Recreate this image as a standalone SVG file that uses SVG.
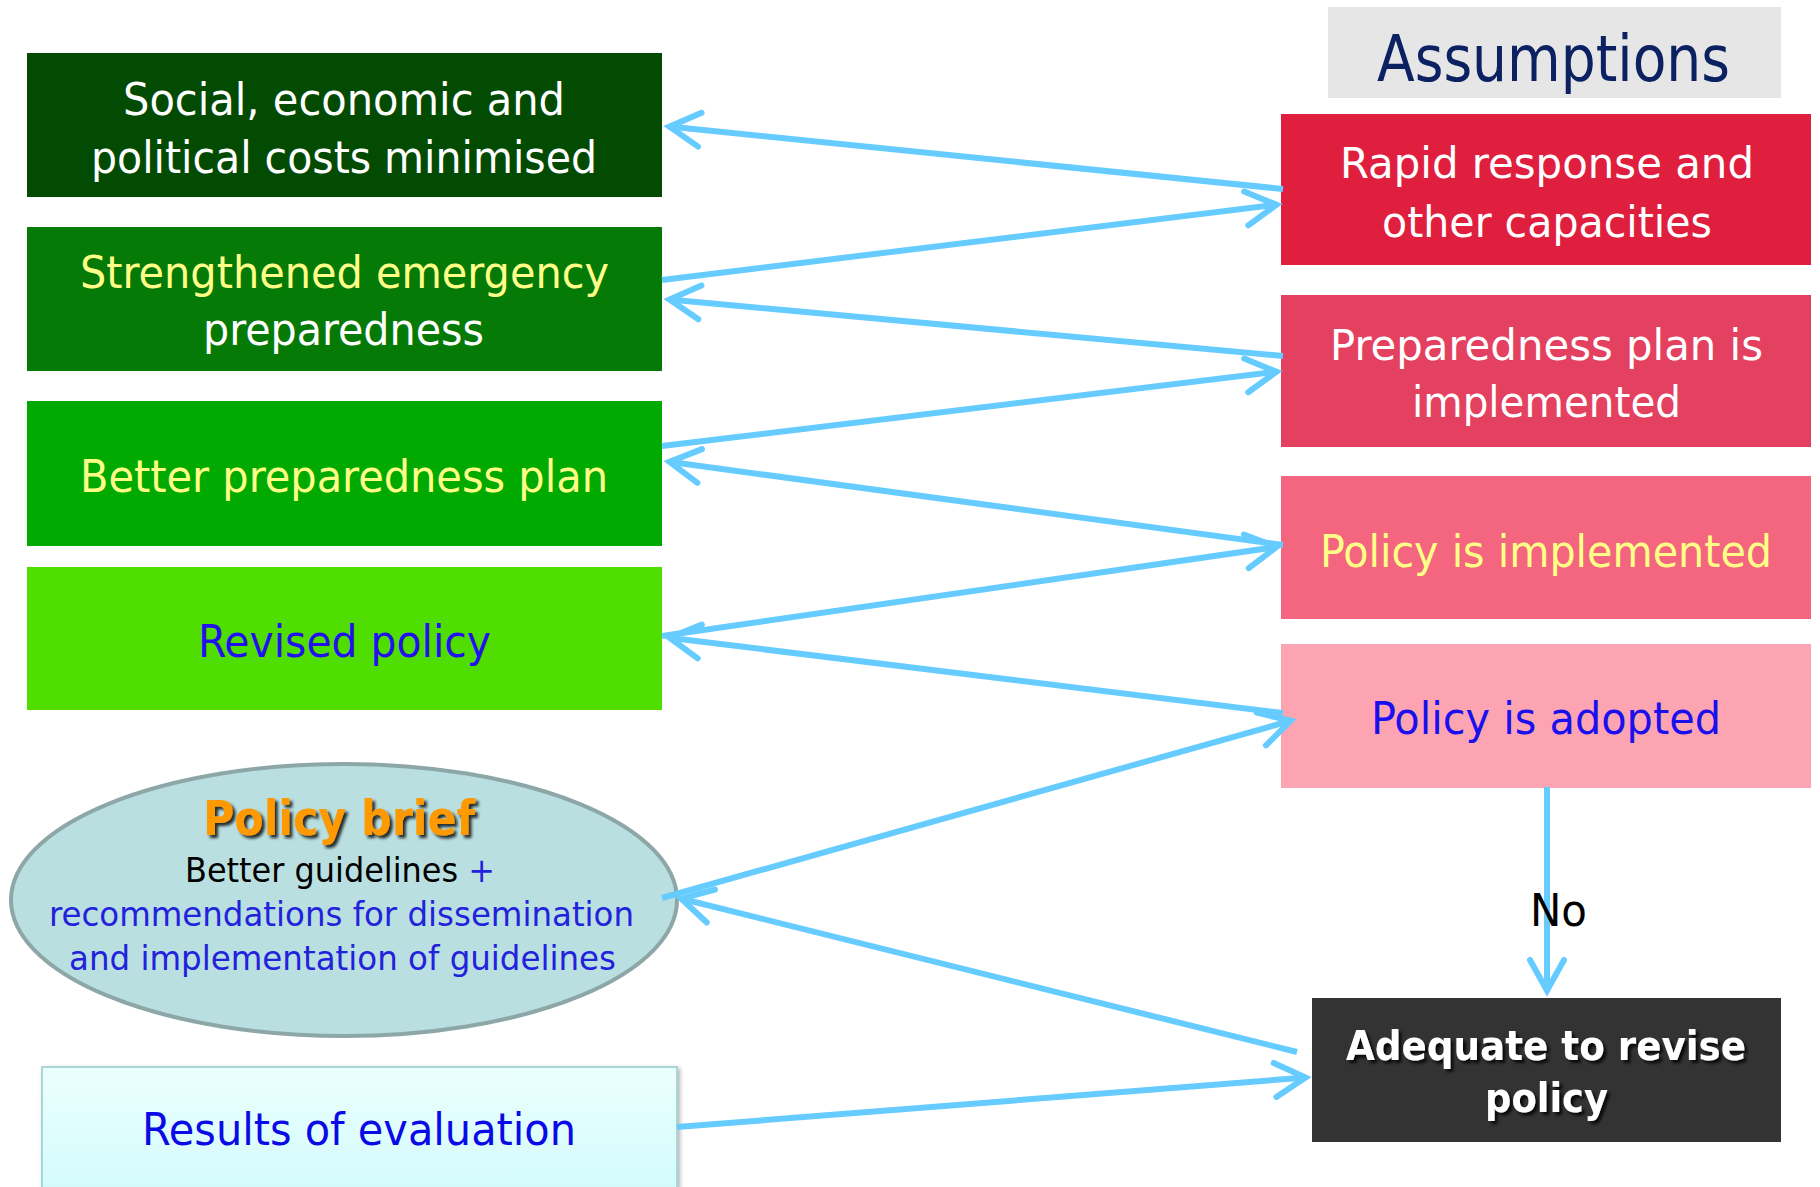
<svg xmlns="http://www.w3.org/2000/svg" width="1820" height="1187" viewBox="0 0 1820 1187">
<style>
  text { font-family: "DejaVu Sans Condensed", "DejaVu Sans", "Liberation Sans", sans-serif; }
  .t45 { font-size: 45px; }
  .t43 { font-size: 43px; }
  .t34 { font-size: 34px; }
  .w { fill: #ffffff; }
  .y { fill: #ffff88; }
  .b { fill: #2211ee; }
  .conn { fill: none; stroke: #66ccff; stroke-width: 6; stroke-linecap: butt; }
</style>
<defs>
  <marker id="ah" markerUnits="userSpaceOnUse" viewBox="-45 -30 60 60" markerWidth="60" markerHeight="60" refX="0" refY="0" orient="auto" overflow="visible">
    <path d="M-31,-17 L-0.5,0 L-31,17" fill="none" stroke="#66ccff" stroke-width="6" stroke-linecap="round" stroke-linejoin="miter" stroke-miterlimit="10"/>
  </marker>
  <linearGradient id="resGrad" x1="0" y1="0" x2="0" y2="1">
    <stop offset="0" stop-color="#ecffff"/>
    <stop offset="1" stop-color="#d2fbfb"/>
  </linearGradient>
  <filter id="shadowDark" x="-10%" y="-20%" width="120%" height="150%">
    <feDropShadow dx="3" dy="3" stdDeviation="1.5" flood-color="#000000" flood-opacity="0.8"/>
  </filter>
  <filter id="boxShadow" x="-5%" y="-5%" width="110%" height="110%">
    <feDropShadow dx="2" dy="2" stdDeviation="2" flood-color="#000000" flood-opacity="0.3"/>
  </filter>
</defs>

<g id="node-costs">
  <rect x="27" y="53" width="635" height="144" fill="#034a03"/>
  <text class="t45 w" x="123" y="115" textLength="442" lengthAdjust="spacingAndGlyphs">Social, economic and</text>
  <text class="t45 w" x="91" y="173" textLength="506" lengthAdjust="spacingAndGlyphs">political costs minimised</text>
</g>
<g id="node-strengthened">
  <rect x="27" y="227" width="635" height="144" fill="#067a06"/>
  <text class="t45 y" x="80" y="288" textLength="529" lengthAdjust="spacingAndGlyphs">Strengthened emergency</text>
  <text class="t45 w" x="203" y="345" textLength="281" lengthAdjust="spacingAndGlyphs">preparedness</text>
</g>
<g id="node-better-plan">
  <rect x="27" y="401" width="635" height="145" fill="#00aa00"/>
  <text class="t45 y" x="80" y="492" textLength="528" lengthAdjust="spacingAndGlyphs">Better preparedness plan</text>
</g>
<g id="node-revised-policy">
  <rect x="27" y="567" width="635" height="143" fill="#50dd00"/>
  <text class="t45 b" x="198" y="657" textLength="293" lengthAdjust="spacingAndGlyphs">Revised policy</text>
</g>
<g id="node-policy-brief">
  <ellipse cx="344" cy="900" rx="333" ry="136" fill="#b9dfe1" stroke="#8da7a8" stroke-width="4"/>
  <text x="203" y="835" font-size="48" font-weight="bold" fill="#ff9900" filter="url(#shadowDark)" textLength="272" lengthAdjust="spacingAndGlyphs">Policy brief</text>
  <text class="t34" x="185" y="882" textLength="310" lengthAdjust="spacingAndGlyphs"><tspan fill="#000000">Better guidelines </tspan><tspan fill="#2222dd">+</tspan></text>
  <text class="t34" x="49" y="926" fill="#2222dd" textLength="585" lengthAdjust="spacingAndGlyphs">recommendations for dissemination</text>
  <text class="t34" x="69" y="970" fill="#2222dd" textLength="547" lengthAdjust="spacingAndGlyphs">and implementation of guidelines</text>
</g>
<g id="node-results">
  <rect x="42" y="1067" width="635" height="130" fill="url(#resGrad)" stroke="#a9d6d8" stroke-width="2" filter="url(#boxShadow)"/>
  <text class="t45" x="142" y="1145" fill="#0a0ae6" textLength="434" lengthAdjust="spacingAndGlyphs">Results of evaluation</text>
</g>

<g id="node-assumptions">
  <rect x="1328" y="7" width="453" height="91" fill="#e6e6e6"/>
  <text x="1377" y="81" font-size="64" fill="#0b2161" textLength="353" lengthAdjust="spacingAndGlyphs">Assumptions</text>
</g>
<g id="node-rapid">
  <rect x="1281" y="114" width="530" height="151" fill="#e01f3f"/>
  <text class="t43 w" x="1340" y="178" textLength="414" lengthAdjust="spacingAndGlyphs">Rapid response and</text>
  <text class="t43 w" x="1382" y="237" textLength="330" lengthAdjust="spacingAndGlyphs">other capacities</text>
</g>
<g id="node-plan-implemented">
  <rect x="1281" y="295" width="530" height="152" fill="#e44060"/>
  <text class="t43 w" x="1330" y="360" textLength="433" lengthAdjust="spacingAndGlyphs">Preparedness plan is</text>
  <text class="t43 w" x="1412" y="417" textLength="269" lengthAdjust="spacingAndGlyphs">implemented</text>
</g>
<g id="node-policy-implemented">
  <rect x="1281" y="476" width="530" height="143" fill="#f4667f"/>
  <text class="t45 y" x="1320" y="567" textLength="452" lengthAdjust="spacingAndGlyphs">Policy is implemented</text>
</g>
<g id="node-policy-adopted">
  <rect x="1281" y="644" width="530" height="144" fill="#fca4b2"/>
  <text class="t45" x="1371" y="734" fill="#1a10ee" textLength="350" lengthAdjust="spacingAndGlyphs">Policy is adopted</text>
</g>
<g id="node-adequate">
  <rect x="1312" y="998" width="469" height="144" fill="#333333"/>
  <text x="1346" y="1060" font-size="40" font-weight="bold" fill="#ffffff" filter="url(#shadowDark)" textLength="400" lengthAdjust="spacingAndGlyphs">Adequate to revise</text>
  <text x="1485" y="1112" font-size="40" font-weight="bold" fill="#ffffff" filter="url(#shadowDark)" textLength="123" lengthAdjust="spacingAndGlyphs">policy</text>
</g>

<g id="connectors">
  <line class="conn" x1="1283" y1="189" x2="669" y2="126.6" marker-end="url(#ah)"/>
  <line class="conn" x1="662" y1="280" x2="1277" y2="204.7" marker-end="url(#ah)"/>
  <line class="conn" x1="1283" y1="356" x2="669" y2="299.5" marker-end="url(#ah)"/>
  <line class="conn" x1="662" y1="446" x2="1277" y2="371.7" marker-end="url(#ah)"/>
  <line class="conn" x1="1283" y1="545" x2="669" y2="461.8" marker-end="url(#ah)"/>
  <line class="conn" x1="662" y1="636" x2="1277" y2="546.9" marker-end="url(#ah)"/>
  <line class="conn" x1="1283" y1="713" x2="669" y2="637.7" marker-end="url(#ah)"/>
  <line class="conn" x1="662" y1="898" x2="1291.2" y2="720.6" marker-end="url(#ah)"/>
  <line class="conn" x1="1297" y1="1052" x2="680.8" y2="898.5" marker-end="url(#ah)"/>
  <line class="conn" x1="677" y1="1127" x2="1306" y2="1077.5" marker-end="url(#ah)"/>
  <line class="conn" x1="1547" y1="787" x2="1547" y2="991" marker-end="url(#ah)"/>
  <text x="1530" y="926" font-size="45" fill="#000000" textLength="57" lengthAdjust="spacingAndGlyphs">No</text>
</g>
</svg>
